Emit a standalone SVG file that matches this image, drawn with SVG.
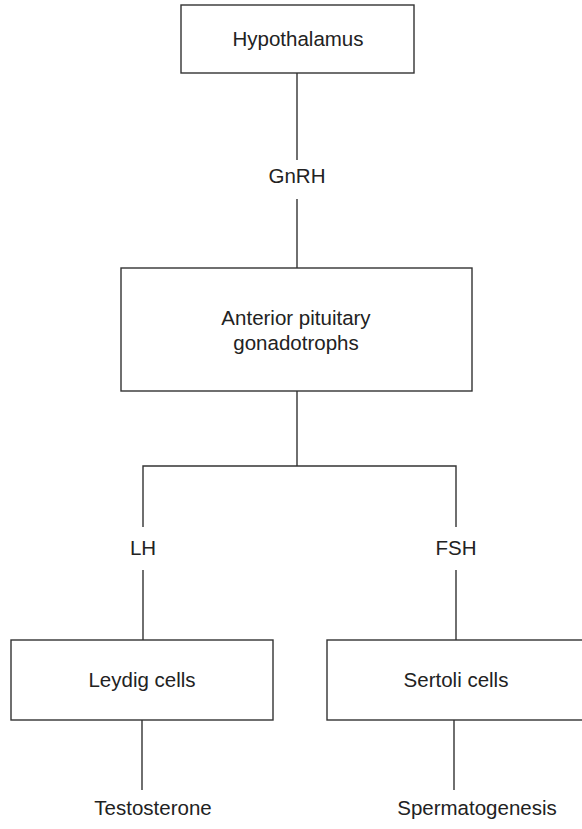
<svg xmlns="http://www.w3.org/2000/svg" width="582" height="829" viewBox="0 0 582 829">
<style>
.box{fill:#fff;stroke:#333;stroke-width:1.4}
.ln{stroke:#333;stroke-width:1.4;fill:none}
text{font-family:"Liberation Sans",Arial,sans-serif;font-size:20.5px;fill:#222;text-anchor:middle}
</style>
<rect width="582" height="829" fill="#fff"/>
<g id="connectors">
<line class="ln" x1="297" y1="73" x2="297" y2="160"/>
<line class="ln" x1="297" y1="199" x2="297" y2="268"/>
<line class="ln" x1="297" y1="391" x2="297" y2="466"/>
<polyline class="ln" points="143,527 143,466 456,466 456,527"/>
<line class="ln" x1="143" y1="570" x2="143" y2="640"/>
<line class="ln" x1="456" y1="570" x2="456" y2="640"/>
<line class="ln" x1="142" y1="720" x2="142" y2="790"/>
<line class="ln" x1="454" y1="720" x2="454" y2="790"/>
</g>
<g id="hypothalamus"><rect class="box" x="181" y="5" width="233" height="68"/><text x="298" y="46">Hypothalamus</text></g>
<g id="gnrh"><text x="297" y="183">GnRH</text></g>
<g id="anterior"><rect class="box" x="121" y="268" width="351" height="123"/><text x="296" y="325">Anterior pituitary</text><text x="296" y="350">gonadotrophs</text></g>
<g id="lh"><text x="143" y="555">LH</text></g>
<g id="fsh"><text x="456" y="555">FSH</text></g>
<g id="leydig"><rect class="box" x="11" y="640" width="262" height="80"/><text x="142" y="687">Leydig cells</text></g>
<g id="sertoli"><rect class="box" x="327" y="640" width="256" height="80"/><text x="456" y="687">Sertoli cells</text></g>
<g id="testosterone"><text x="153" y="815">Testosterone</text></g>
<g id="spermatogenesis"><text x="477" y="815">Spermatogenesis</text></g>
</svg>
